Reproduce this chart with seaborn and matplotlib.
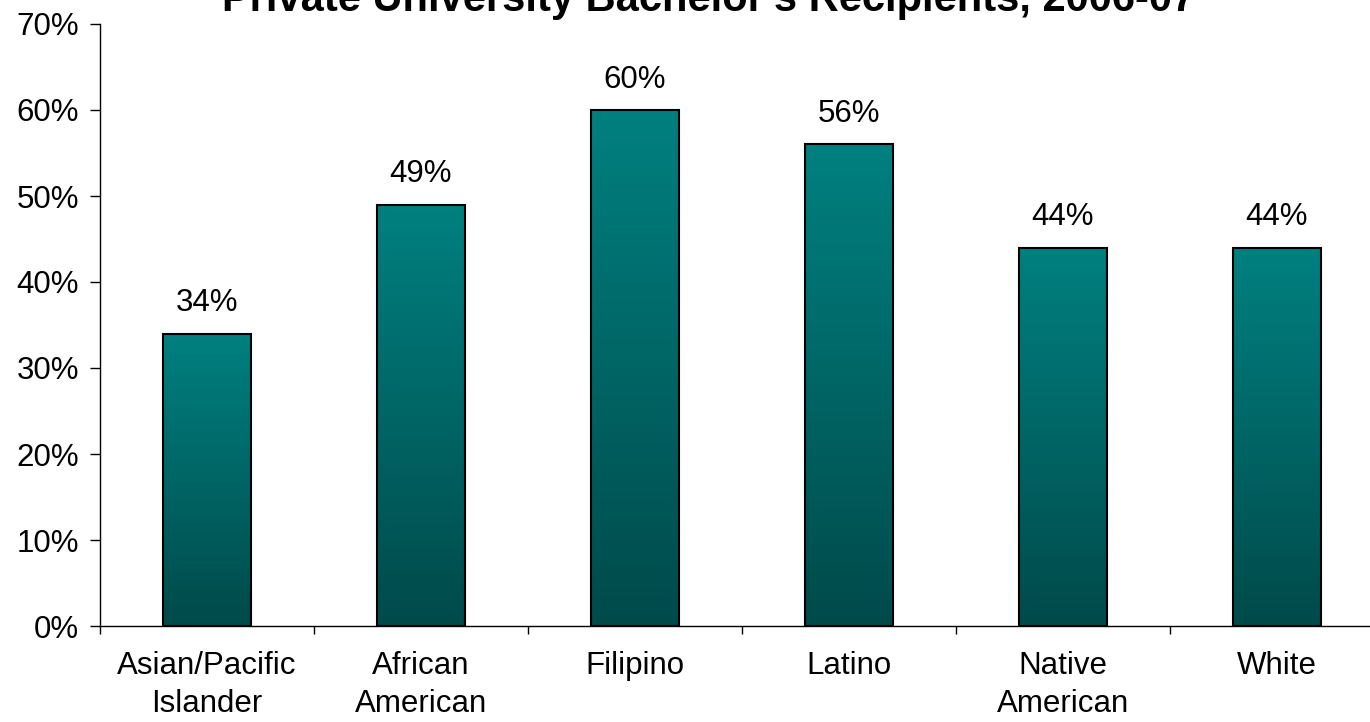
import numpy as np
import pandas as pd
import seaborn as sns
import matplotlib.pyplot as plt
from matplotlib.colors import LinearSegmentedColormap
from matplotlib.ticker import PercentFormatter

# Data
groups = ["Asian/Pacific\nIslander", "African\nAmerican", "Filipino", "Latino",
          "Native\nAmerican", "White"]
shares = [34, 49, 60, 56, 44, 44]
title = "Private University Bachelor's Recipients, 2006-07"

df = pd.DataFrame({"group": groups, "share": shares})

sns.set_style("white")
plt.rcParams["font.family"] = ["Liberation Sans", "DejaVu Sans"]
plt.rcParams["text.color"] = "black"
plt.rcParams["xtick.color"] = "black"
plt.rcParams["ytick.color"] = "black"

fig = plt.figure(figsize=(13.7, 7.22), dpi=100)
ax = fig.add_axes([100 / 1370, 96 / 722, 1284 / 1370, 602 / 722])

sns.barplot(data=df, x="group", y="share", width=0.41, color="#007f7f",
            edgecolor="black", linewidth=1.5, ax=ax)

# vertical gradient on each bar
teal = LinearSegmentedColormap.from_list("teal", ["#004a4a", "#008080"])
grad = np.linspace(0, 1, 256).reshape(-1, 1)
for bar in ax.patches:
    x0, y0 = bar.get_x(), bar.get_y()
    w, h = bar.get_width(), bar.get_height()
    im = ax.imshow(grad, cmap=teal, origin="lower", aspect="auto",
                   extent=[x0, x0 + w, y0, y0 + h], zorder=bar.get_zorder() - 0.1)
    im.set_clip_path(bar)
    bar.set_facecolor("none")

ax.bar_label(ax.containers[0], labels=[f"{v}%" for v in shares],
             padding=11, fontsize=22.5, color="black")

ax.set_xlim(-0.5, len(groups) - 0.5)
ax.set_ylim(0, 70)
ax.set_yticks(range(0, 71, 10))
ax.yaxis.set_major_formatter(PercentFormatter(decimals=0))
ax.set_xticks(np.arange(-0.5, len(groups), 1), minor=True)
ax.tick_params(axis="x", which="major", length=0, pad=18, labelsize=22.5)
ax.tick_params(axis="x", which="minor", length=6, width=1, direction="out")
ax.tick_params(axis="y", length=7, width=1, direction="out", labelsize=22.5, pad=8)
ax.xaxis.set_ticks_position("bottom")
ax.yaxis.set_ticks_position("left")
for lab in ax.get_xticklabels():
    lab.set_verticalalignment("top")
    lab.set_linespacing(1.33)
ax.set_xlabel("")
ax.set_ylabel("")

sns.despine(ax=ax)
for side in ["left", "bottom"]:
    ax.spines[side].set_color("black")
    ax.spines[side].set_linewidth(1)

fig.text(709 / 1370, 1 - 11 / 722, title, ha="center", va="baseline",
         fontsize=30, fontweight="bold")

fig.savefig("out.png", dpi=100)
